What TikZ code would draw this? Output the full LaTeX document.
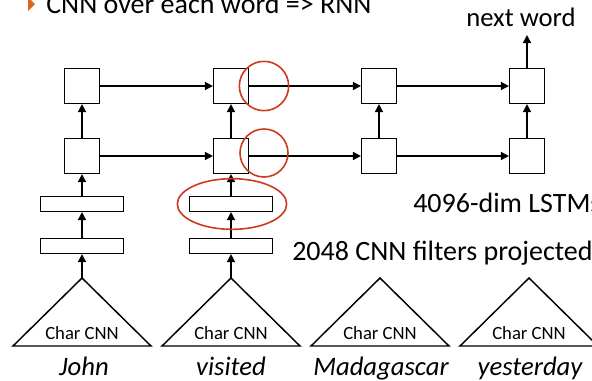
\documentclass[tikz,border=0pt]{standalone}
\usepackage{fontspec}
\setmainfont{Carlito}
\usetikzlibrary{arrows.meta}
\definecolor{markred}{RGB}{205,58,32}
\definecolor{bulletorange}{RGB}{215,105,25}

\begin{document}
\begin{tikzpicture}[x=0.75pt,y=-0.75pt,
                    lstmND/.style={draw,
                                   line width=1.1pt,
                                   minimum size=26pt,
                                   inner sep=0pt},
                    projND/.style={draw,
                                   line width=1.1pt,
                                   minimum width=62pt,
                                   minimum height=11pt,
                                   inner sep=0pt},
                    tri/.style={line width=1.1pt, line join=miter},
                    arr/.style={line width=1.1pt, -{Triangle[length=6pt,width=6pt]}},
                    redmark/.style={draw=markred, line width=1.2pt},
                    lbl/.style={font=\fontsize{20}{24}\selectfont, inner sep=0pt},
                    side/.style={font=\fontsize{21}{25}\selectfont, inner sep=0pt}]
    \useasboundingbox (0,0) rectangle (592,380);

    % title line
    \fill[bulletorange] (28,-3) -- (35,4) -- (28,11) -- cycle;
    \node[side, anchor=base west] (title) at (46,13) {CNN over each word => RNN};

    % LSTM rows
    \node[lstmND] (topA) at (82,86)  {};
    \node[lstmND] (topB) at (231,86) {};
    \node[lstmND] (topC) at (379,86) {};
    \node[lstmND] (topD) at (527,86) {};
    \node[lstmND] (botA) at (82,156)  {};
    \node[lstmND] (botB) at (231,156) {};
    \node[lstmND] (botC) at (379,156) {};
    \node[lstmND] (botD) at (527,156) {};

    % projections
    \node[projND] (hiA) at (82,204)  {};
    \node[projND] (hiB) at (231,204) {};
    \node[projND] (loA) at (82,246)  {};
    \node[projND] (loB) at (231,246) {};

    % char cnn triangles
    \coordinate (cnnA) at (82,278);
    \coordinate (cnnB) at (231,278);
    \coordinate (cnnC) at (380,278);
    \coordinate (cnnD) at (529,278);
    \draw[tri] (cnnA) -- (13,346) -- (151,346) -- cycle;
    \draw[tri] (cnnB) -- (162,346) -- (300,346) -- cycle;
    \draw[tri] (cnnC) -- (311,346) -- (449,346) -- cycle;
    \draw[tri] (cnnD) -- (460,346) -- (598,346) -- cycle;
    \node[font=\fontsize{14}{16}\selectfont] (chA) at (82,333)  {Char CNN};
    \node[font=\fontsize{14}{16}\selectfont] (chB) at (231,333) {Char CNN};
    \node[font=\fontsize{14}{16}\selectfont] (chC) at (380,333) {Char CNN};
    \node[font=\fontsize{14}{16}\selectfont] (chD) at (529,333) {Char CNN};

    % words
    \node[lbl, anchor=base] (wA) at (84,375)  {\itshape John};
    \node[lbl, anchor=base] (wB) at (231,375) {\itshape visited};
    \node[lbl, anchor=base] (wC) at (381,375) {\itshape Madagascar};
    \node[lbl, anchor=base] (wD) at (530,375) {\itshape yesterday};

    % side labels
    \node[side, anchor=base west] (lstmtxt) at (413,212) {4096-dim LSTMs};
    \node[side, anchor=base west] (cnntxt)  at (292,260) {2048 CNN filters projected};
    \node[lbl, anchor=base] (next) at (521,26) {next word};
    \coordinate (nexttip) at (527,35);

    % connections
    \draw[arr] (topA) -- (topB);
    \draw[arr] (topB) -- (topC);
    \draw[arr] (topC) -- (topD);
    \draw[arr] (botA) -- (botB);
    \draw[arr] (botB) -- (botC);
    \draw[arr] (botC) -- (botD);
    \draw[arr] (botA) -- (topA);
    \draw[arr] (botB) -- (topB);
    \draw[arr] (botC) -- (topC);
    \draw[arr] (botD) -- (topD);
    \draw[arr] (topD) -- (nexttip);
    \draw[arr] (hiA) -- (botA);
    \draw[arr] (hiB) -- (botB);
    \draw[arr] (loA) -- (hiA);
    \draw[arr] (loB) -- (hiB);
    \draw[arr] (cnnA) -- (loA);
    \draw[arr] (cnnB) -- (loB);

    % red marks
    \draw[redmark] (264,86) circle[radius=18.5pt];
    \draw[redmark] (264,153) circle[radius=18pt];
    \draw[redmark] (232,204) ellipse[x radius=41pt, y radius=19pt];
\end{tikzpicture}
\end{document}
